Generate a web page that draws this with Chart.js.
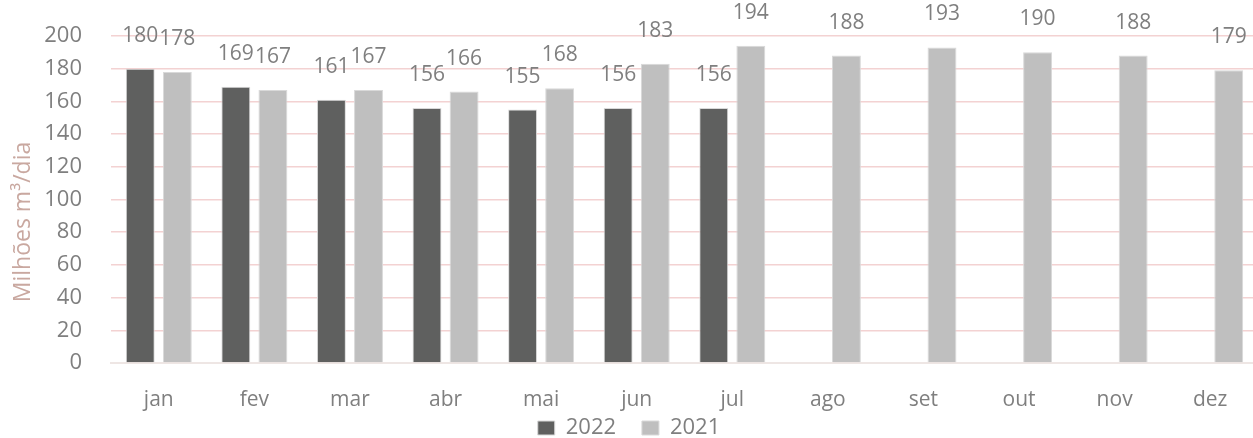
<!DOCTYPE html>
<html lang="pt">
<head>
<meta charset="UTF-8">
<title>Milhões m³/dia</title>
<script src="https://cdn.jsdelivr.net/npm/chart.js"></script>
<style>
  body { margin: 0; background: #fff; }
  #caixa { width: 1253px; height: 438px; overflow: hidden; }
</style>
</head>
<body>
<div id="caixa"><canvas id="grafico" width="1258" height="438"></canvas></div>
<script>
const meses = ['jan', 'fev', 'mar', 'abr', 'mai', 'jun', 'jul', 'ago', 'set', 'out', 'nov', 'dez'];
const valores2022 = [180, 169, 161, 156, 155, 156, 156, null, null, null, null, null];
const valores2021 = [178, 167, 167, 166, 168, 183, 194, 188, 193, 190, 188, 179];
const tituloY = 'Milhões m³/dia';

const fonte = '"Open Sans", "Noto Sans", sans-serif';

// rótulos de valor acima das barras + título do eixo y
const rotulos = {
  id: 'rotulos',
  afterDatasetsDraw(chart) {
    const ctx = chart.ctx;
    ctx.save();
    ctx.font = '21px ' + fonte;
    ctx.fillStyle = '#7f7f7f';
    ctx.textAlign = 'center';
    ctx.textBaseline = 'middle';
    chart.data.datasets.forEach((ds, i) => {
      chart.getDatasetMeta(i).data.forEach((barra, j) => {
        if (ds.data[j] == null) return;
        ctx.fillText(ds.data[j], barra.x, barra.y - 33);
      });
    });
    ctx.restore();

    // título do eixo, um pouco abaixo do centro como no original
    ctx.save();
    ctx.translate(23, 222);
    ctx.rotate(-Math.PI / 2);
    ctx.font = '23px ' + fonte;
    ctx.fillStyle = '#c9a8a0';
    ctx.textAlign = 'center';
    ctx.textBaseline = 'middle';
    ctx.fillText(tituloY, 0, 0);
    ctx.restore();
  }
};

const ctx = document.getElementById('grafico').getContext('2d');
new Chart(ctx, {
  type: 'bar',
  data: {
    labels: meses,
    datasets: [
      {
        label: '2022',
        data: valores2022,
        backgroundColor: '#5f605f',
        borderColor: '#d9d9d9',
        borderWidth: 1,
        categoryPercentage: 0.776,
        barPercentage: 0.78
      },
      {
        label: '2021',
        data: valores2021,
        backgroundColor: '#bfbfbf',
        borderColor: '#d9d9d9',
        borderWidth: 1,
        categoryPercentage: 0.776,
        barPercentage: 0.78
      }
    ]
  },
  options: {
    responsive: false,
    animation: false,
    layout: { padding: { top: 36, left: 0, right: 0, bottom: -11 } },
    plugins: {
      legend: {
        position: 'bottom',
        labels: {
          color: '#7f7f7f',
          font: { family: fonte, size: 22 },
          boxWidth: 17,
          boxHeight: 14,
          padding: 3,
          // espaço extra entre os itens sem aumentar a altura da legenda
          generateLabels(chart) {
            const itens = Chart.defaults.plugins.legend.labels.generateLabels(chart);
            itens.forEach((it, i) => { if (i < itens.length - 1) it.text += '    '; });
            return itens;
          }
        }
      },
      tooltip: { enabled: false }
    },
    scales: {
      x: {
        grid: { display: false, drawTicks: false },
        border: { color: '#eee6e4', width: 2 },
        ticks: { color: '#7f7f7f', font: { family: fonte, size: 21 }, padding: 24 },
        afterFit(scale) { scale.height = 51; }
      },
      y: {
        min: 0,
        max: 200,
        ticks: { stepSize: 20, autoSkip: false, color: '#7f7f7f', font: { family: fonte, size: 22 }, padding: 29 },
        grid: { color: '#f3d2d2', lineWidth: 1.5, drawTicks: false },
        border: { display: false },
        afterFit(scale) {
          scale.width = 111;
          scale.paddingTop = 0;
          scale.paddingBottom = 0;
        }
      }
    }
  },
  plugins: [rotulos]
});
</script>
</body>
</html>
